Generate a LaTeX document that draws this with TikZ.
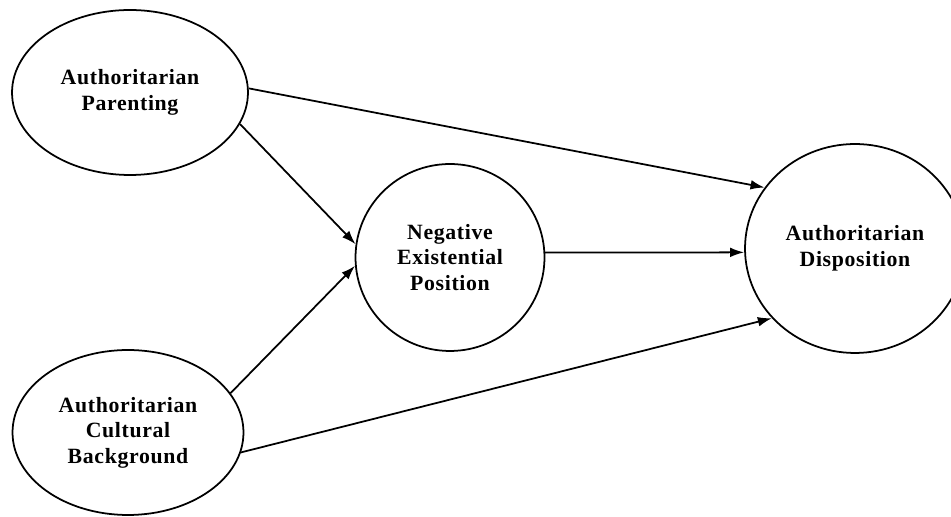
\documentclass[tikz,border=0pt]{standalone}
\usepackage{fontspec}
\setmainfont{Liberation Serif}
\newfontfamily\varfont[LetterSpace=3]{Liberation Serif}
\usetikzlibrary{arrows.meta,shapes.geometric}
\begin{document}
\begin{tikzpicture}[x=0.02cm,y=0.02cm,
    var/.style={draw, ellipse, line width=1pt, inner sep=0pt, align=center,
      font=\varfont\bfseries\fontsize{12.4}{14.5}\selectfont},
    path/.style={line width=1pt, -{Latex[length=8pt,width=5.5pt]}}]
  \useasboundingbox (0,0) rectangle (951,517);
  \clip (0,0) rectangle (951,517);
  % latent variables
  \node[var, minimum width=4.72cm, minimum height=3.3cm] (par) at (130,424.5) {Authoritarian\\Parenting};
  \node[var, minimum width=4.62cm, minimum height=3.3cm] (cult) at (128,84.5) {Authoritarian\\Cultural\\Background};
  \node[var, minimum width=3.78cm, minimum height=3.74cm] (neg) at (450,259.5) {Negative\\Existential\\Position};
  \node[var, minimum width=4.4cm, minimum height=4.18cm] (disp) at (855,268.5) {Authoritarian\\Disposition};
  % paths
  \foreach \a/\b in {par.2/disp.146, par.-16/neg.172, cult.21/neg.185, cult.-10/disp.220, neg.3/disp.182} {
    \draw[path] (\a) -- (\b);}
\end{tikzpicture}
\end{document}
